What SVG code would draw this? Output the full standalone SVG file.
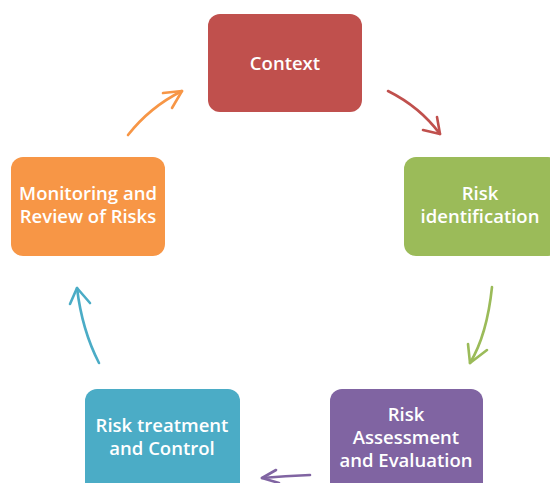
<svg xmlns="http://www.w3.org/2000/svg" width="550" height="483" viewBox="0 0 550 483">
<style>
.box{stroke:none}
.t{font-family:"Open Sans","Noto Sans","Liberation Sans",sans-serif;font-size:18.5px;font-weight:600;fill:#ffffff;text-anchor:middle}
.c{fill:none;stroke-width:2.6;stroke-linecap:round;stroke-linejoin:round}
</style>
<rect width="550" height="483" fill="#ffffff"/>
<g id="connectors">
<g id="c1" class="c" stroke="#C0504D"><path d="M388,91 Q420,107 440,134"/><path d="M423,130 L440,134 L437,117"/></g>
<g id="c2" class="c" stroke="#9BBB59"><path d="M492,287 Q487,335 470,363"/><path d="M468,344 L470,363 L487,350"/></g>
<g id="c3" class="c" stroke="#8064A2"><path d="M310,475 Q285,476 262,478"/><path d="M276,470 L262,478 L279,483"/></g>
<g id="c4" class="c" stroke="#4BACC6"><path d="M99,363 Q82,330 77,288"/><path d="M70,304 L77,288 L90,303"/></g>
<g id="c5" class="c" stroke="#F79646"><path d="M128,135 Q150,107 182,91"/><path d="M163,93 L182,91 L172,108"/></g>
</g>
<g id="n-context"><rect class="box" x="208" y="14" width="154" height="98" rx="12" fill="#C0504D"/><text class="t" x="285" y="70">Context</text></g>
<g id="n-identification"><rect class="box" x="404" y="157" width="156" height="99" rx="12" fill="#9BBB59"/><text class="t" x="480" y="200">Risk</text><text class="t" x="480" y="223">identification</text></g>
<g id="n-assessment"><rect class="box" x="330" y="389" width="153" height="110" rx="12" fill="#8064A2"/><text class="t" x="406" y="421">Risk</text><text class="t" x="406" y="444">Assessment</text><text class="t" x="406" y="467">and Evaluation</text></g>
<g id="n-treatment"><rect class="box" x="85" y="389" width="155" height="110" rx="12" fill="#4BACC6"/><text class="t" x="162" y="432">Risk treatment</text><text class="t" x="162" y="455">and Control</text></g>
<g id="n-monitoring"><rect class="box" x="11" y="157" width="154" height="99" rx="12" fill="#F79646"/><text class="t" x="88" y="200">Monitoring and</text><text class="t" x="88" y="223">Review of Risks</text></g>
</svg>
